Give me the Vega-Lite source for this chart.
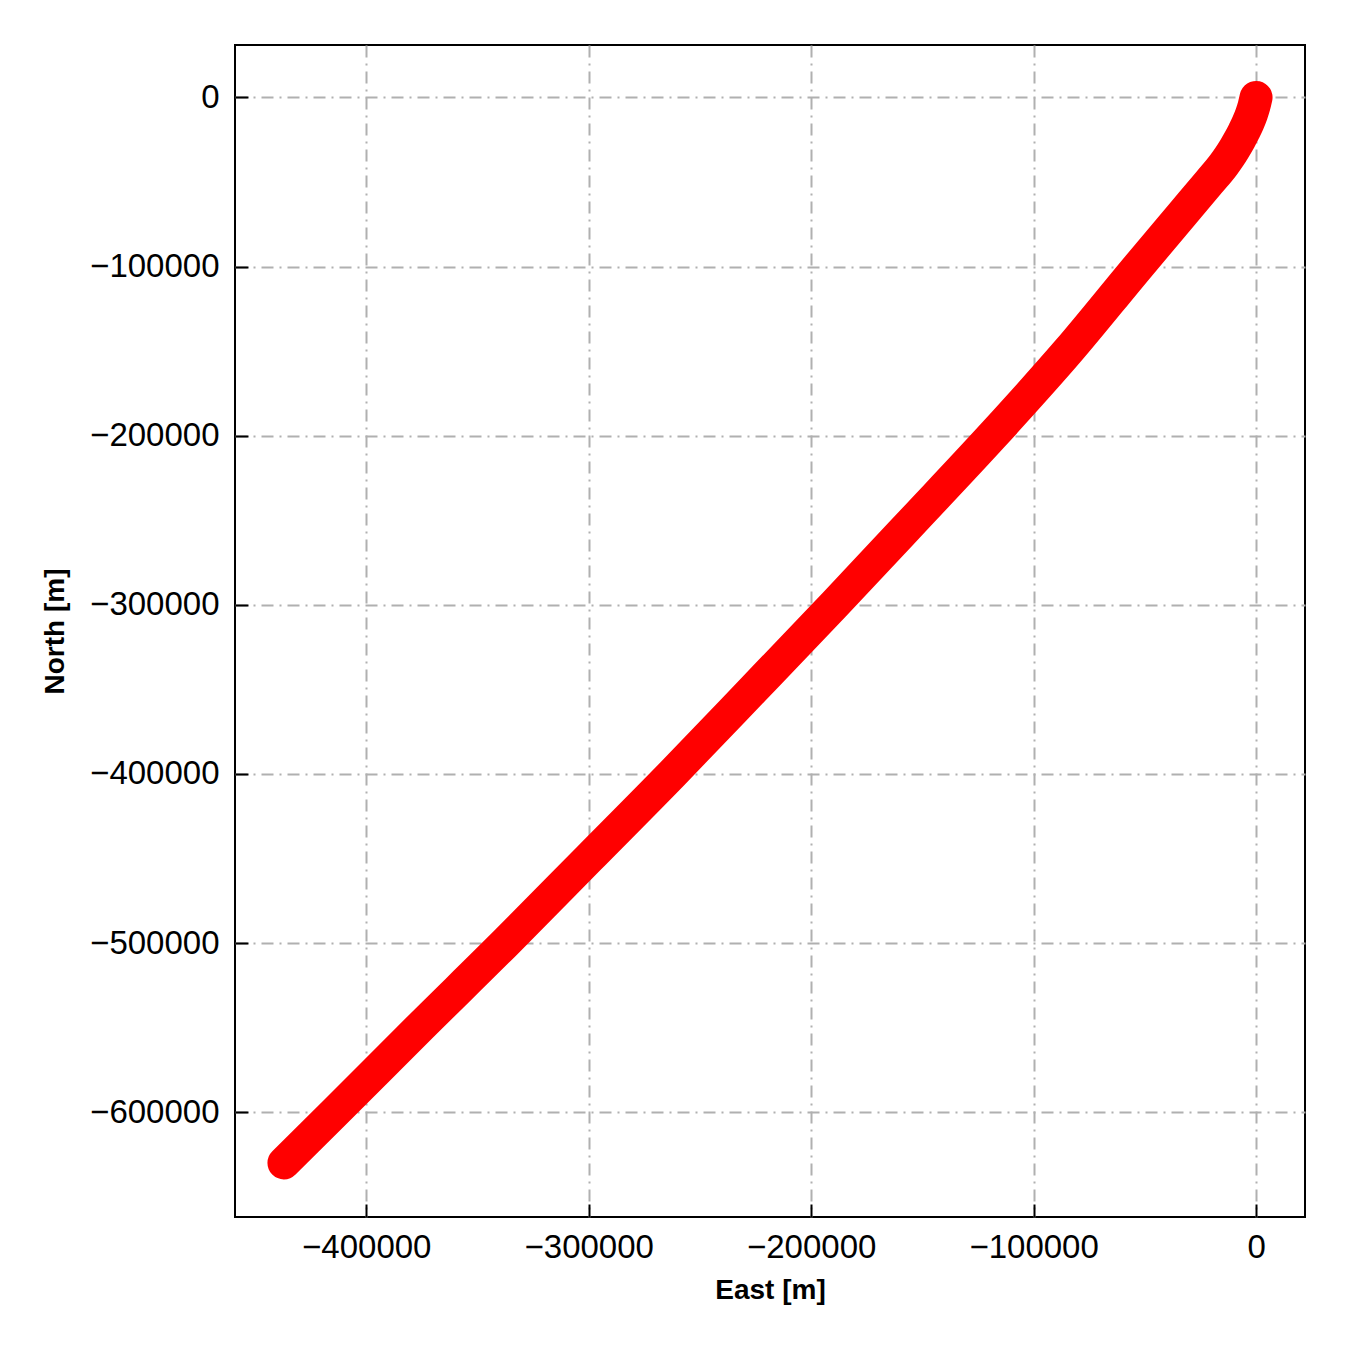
{
  "$schema": "https://vega.github.io/schema/vega-lite/v6.json",
  "autosize": {"type": "none"},
  "width": 1070,
  "height": 1172,
  "padding": {"left": 235, "top": 45, "right": 45, "bottom": 133},
  "background": "white",
  "config": {
    "view": {"stroke": "black", "strokeWidth": 2},
    "font": "Liberation Sans",
    "axis": {
      "domain": false,
      "grid": true,
      "gridColor": "#b0b0b0",
      "gridWidth": 2,
      "gridDash": [12, 6, 2, 6],
      "tickColor": "black",
      "tickWidth": 2,
      "tickSize": -13,
      "labelFont": "Liberation Sans",
      "labelFontSize": 33,
      "labelColor": "black",
      "titleFont": "Liberation Sans",
      "titleFontSize": 28,
      "titleFontWeight": "bold",
      "titleColor": "black"
    }
  },
  "data": {
    "values": [
      {"east": 0, "north": 0},
      {"east": -900, "north": -5000},
      {"east": -2100, "north": -10000},
      {"east": -3600, "north": -15000},
      {"east": -5400, "north": -20000},
      {"east": -7400, "north": -25000},
      {"east": -9600, "north": -30000},
      {"east": -12000, "north": -35000},
      {"east": -14700, "north": -40000},
      {"east": -21000, "north": -50000},
      {"east": -32500, "north": -68000},
      {"east": -53000, "north": -100000},
      {"east": -84500, "north": -150000},
      {"east": -118500, "north": -200000},
      {"east": -154000, "north": -250000},
      {"east": -189700, "north": -300000},
      {"east": -226000, "north": -350000},
      {"east": -262500, "north": -400000},
      {"east": -300000, "north": -450000},
      {"east": -337500, "north": -500000},
      {"east": -376000, "north": -550000},
      {"east": -414000, "north": -600000},
      {"east": -437000, "north": -630000}
    ]
  },
  "mark": {"type": "line", "color": "#ff0000", "strokeWidth": 33, "strokeCap": "round", "strokeJoin": "round", "interpolate": "monotone"},
  "encoding": {
    "x": {
      "field": "east", "type": "quantitative",
      "scale": {"domain": [-459000, 22000], "nice": false, "zero": false},
      "axis": {"values": [-400000, -300000, -200000, -100000, 0], "format": "d", "title": "East [m]", "labelPadding": 27, "titlePadding": 12}
    },
    "y": {
      "field": "north", "type": "quantitative",
      "scale": {"domain": [-662000, 31000], "nice": false, "zero": false},
      "axis": {"values": [-600000, -500000, -400000, -300000, -200000, -100000, 0], "format": "d", "title": "North [m]", "labelPadding": 29, "titlePadding": 20}
    }
  }
}
